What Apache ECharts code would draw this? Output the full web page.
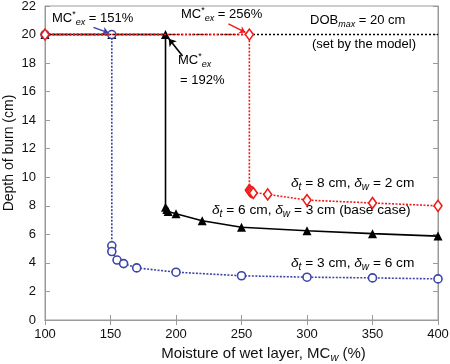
<!DOCTYPE html>
<html>
<head>
<meta charset="utf-8">
<script src="https://cdn.jsdelivr.net/npm/echarts@6/dist/echarts.min.js"></script>
<style>
  html, body { margin: 0; padding: 0; background: #fff; }
  #main { width: 450px; height: 364px; }
</style>
</head>
<body>
<div id="main"></div>
<script>
// delta_t = 3 cm, delta_w = 6 cm (blue circles)
var mcBlue = [100, 151, 151, 151, 155, 160, 170, 200, 250, 300, 350, 400];
var dobBlue = [20, 20, 5.2, 4.8, 4.2, 3.95, 3.65, 3.35, 3.1, 3.0, 2.95, 2.88];
// base case delta_t = 6 cm, delta_w = 3 cm (black triangles)
var mcBase = [100, 151, 192, 192, 193, 194, 200, 220, 250, 300, 350, 400];
var dobBase = [20, 20, 20, 7.9, 7.75, 7.6, 7.45, 6.95, 6.5, 6.25, 6.05, 5.88];
// delta_t = 8 cm, delta_w = 2 cm (red diamonds)
var mcRed = [100, 256, 256, 256.5, 257, 258, 259, 270, 300, 350, 400];
var dobRed = [20, 20, 9.1, 9.05, 9.0, 8.95, 8.9, 8.8, 8.4, 8.2, 8.0];
var dobMax = 20;

function pairs(xs, ys) {
    return xs.map(function (x, i) { return [x, ys[i]]; });
}

var font = 'Liberation Sans, Arial, sans-serif';
var frame = '#9a9a9a';
var blue = '#3d44a8';
var red = '#f01c1c';

function makeRich(size) {
    var s = Math.round(size * 0.7);
    return {
        n: { fontSize: size, fontFamily: font, color: '#111' },
        i: { fontSize: size, fontFamily: font, fontStyle: 'italic', color: '#111' },
        sub: { fontSize: s, fontFamily: font, fontStyle: 'italic', color: '#111', padding: [8, 0, 0, 0] },
        sup: { fontSize: s, fontFamily: font, color: '#111', padding: [0, 0, 8, 0] }
    };
}
var rich = makeRich(13);
var richD = makeRich(13.7);
var richX = makeRich(15);

function txt(x, y, s, r) {
    return { type: 'text', left: x, top: y, style: { text: s, rich: r || rich, font: '13px ' + font } };
}

var myChart = echarts.init(document.getElementById('main'));
var option = {
    animation: false,
    grid: {
        left: 45, right: 12, top: 6, bottom: 44,
        outerBoundsMode: 'none', containLabel: false,
        show: true, borderColor: frame, borderWidth: 1
    },
    xAxis: [{
        type: 'value', min: 100, max: 400, interval: 50,
        axisLine: { lineStyle: { color: frame } },
        axisTick: { inside: true, length: 5, lineStyle: { color: frame } },
        splitLine: { show: false },
        axisLabel: { color: '#111', fontSize: 13, fontFamily: font, margin: 8 },
        name: '{n|Moisture of wet layer, MC}{sub|w}{n| (%)}',
        nameLocation: 'middle', nameGap: 24,
        nameTextStyle: { rich: richX, padding: [0, 0, 0, 44] }
    }, {
        type: 'value', min: 100, max: 400, interval: 50, position: 'top',
        axisLine: { lineStyle: { color: frame } },
        axisTick: { inside: true, length: 5, lineStyle: { color: frame } },
        axisLabel: { show: false }, splitLine: { show: false }
    }],
    yAxis: [{
        type: 'value', min: 0, max: 22, interval: 2,
        axisLine: { show: true, lineStyle: { color: frame } },
        axisTick: { show: true, inside: true, length: 5, lineStyle: { color: frame } },
        splitLine: { show: false },
        axisLabel: { color: '#111', fontSize: 13, fontFamily: font, margin: 9 }
    }, {
        type: 'value', min: 0, max: 22, interval: 2, position: 'right',
        axisLine: { show: true, lineStyle: { color: frame } },
        axisTick: { show: true, inside: true, length: 5, lineStyle: { color: frame } },
        axisLabel: { show: false }, splitLine: { show: false }
    }],
    series: [{
        name: 'base', type: 'line', z: 3,
        data: pairs(mcBase, dobBase),
        symbol: 'triangle', symbolSize: 9,
        itemStyle: { color: '#000' },
        lineStyle: { color: '#000', width: 1.6 },
        markLine: {
            silent: true, symbol: ['none', 'arrow'], symbolSize: 7,
            label: { show: false },
            lineStyle: { color: '#000', width: 1.6, type: 'solid' },
            data: [
                [{ coord: [205, 18.5] }, { coord: [194.5, 19.7] }]
            ]
        }
    }, {
        name: 'dobmax', type: 'line', z: 2,
        data: [], symbol: 'none',
        markLine: {
            silent: true, symbol: 'none', label: { show: false },
            lineStyle: { color: '#000', width: 1.4, type: [2, 2] },
            data: [{ yAxis: dobMax }]
        }
    }, {
        name: 'blue', type: 'line', z: 4,
        data: pairs(mcBlue, dobBlue),
        symbol: 'circle', symbolSize: 8, showAllSymbol: true,
        itemStyle: { color: '#fff', borderColor: blue, borderWidth: 1.6 },
        lineStyle: { color: blue, width: 1.6, type: [2, 1.5] },
        markLine: {
            silent: true, symbol: ['none', 'arrow'], symbolSize: 6,
            label: { show: false },
            lineStyle: { color: blue, width: 1.5, type: 'solid' },
            data: [
                [{ coord: [137, 20.5] }, { coord: [148.5, 20.12] }]
            ]
        }
    }, {
        name: 'red', type: 'line', z: 5,
        data: pairs(mcRed, dobRed),
        symbol: 'diamond', symbolSize: [8, 11], showAllSymbol: true,
        itemStyle: { color: '#fff', borderColor: red, borderWidth: 1.6 },
        lineStyle: { color: red, width: 1.6, type: [2, 1.5] },
        markLine: {
            silent: true, symbol: ['none', 'arrow'], symbolSize: 6,
            label: { show: false },
            lineStyle: { color: red, width: 1.5, type: 'solid' },
            data: [
                [{ coord: [240, 20.75] }, { coord: [253, 20.15] }]
            ]
        }
    }],
    graphic: [
        {
            type: 'text', x: 9, y: 153, rotation: Math.PI / 2,
            style: {
                text: 'Depth of burn (cm)', fill: '#111', font: '14px ' + font,
                align: 'center', verticalAlign: 'middle'
            }
        },
        txt(52, 10, '{n|MC}{sup|*}{sub|ex}{n| = 151%}'),
        txt(181, 6, '{n|MC}{sup|*}{sub|ex}{n| = 256%}'),
        txt(310, 14, '{n|DOB}{sub|max}{n| = 20 cm}'),
        txt(312, 38, '{n|(set by the model)}'),
        txt(178, 52, '{n|MC}{sup|*}{sub|ex}'),
        txt(180, 74, '{n|= 192%}'),
        txt(291, 176, '{i|δ}{sub|t}{n| = 8 cm, }{i|δ}{sub|w}{n| = 2 cm}', richD),
        txt(212, 203, '{i|δ}{sub|t}{n| = 6 cm, }{i|δ}{sub|w}{n| = 3 cm (base case)}', richD),
        txt(291, 256, '{i|δ}{sub|t}{n| = 3 cm, }{i|δ}{sub|w}{n| = 6 cm}', richD)
    ]
};
myChart.setOption(option);
</script>
</body>
</html>
